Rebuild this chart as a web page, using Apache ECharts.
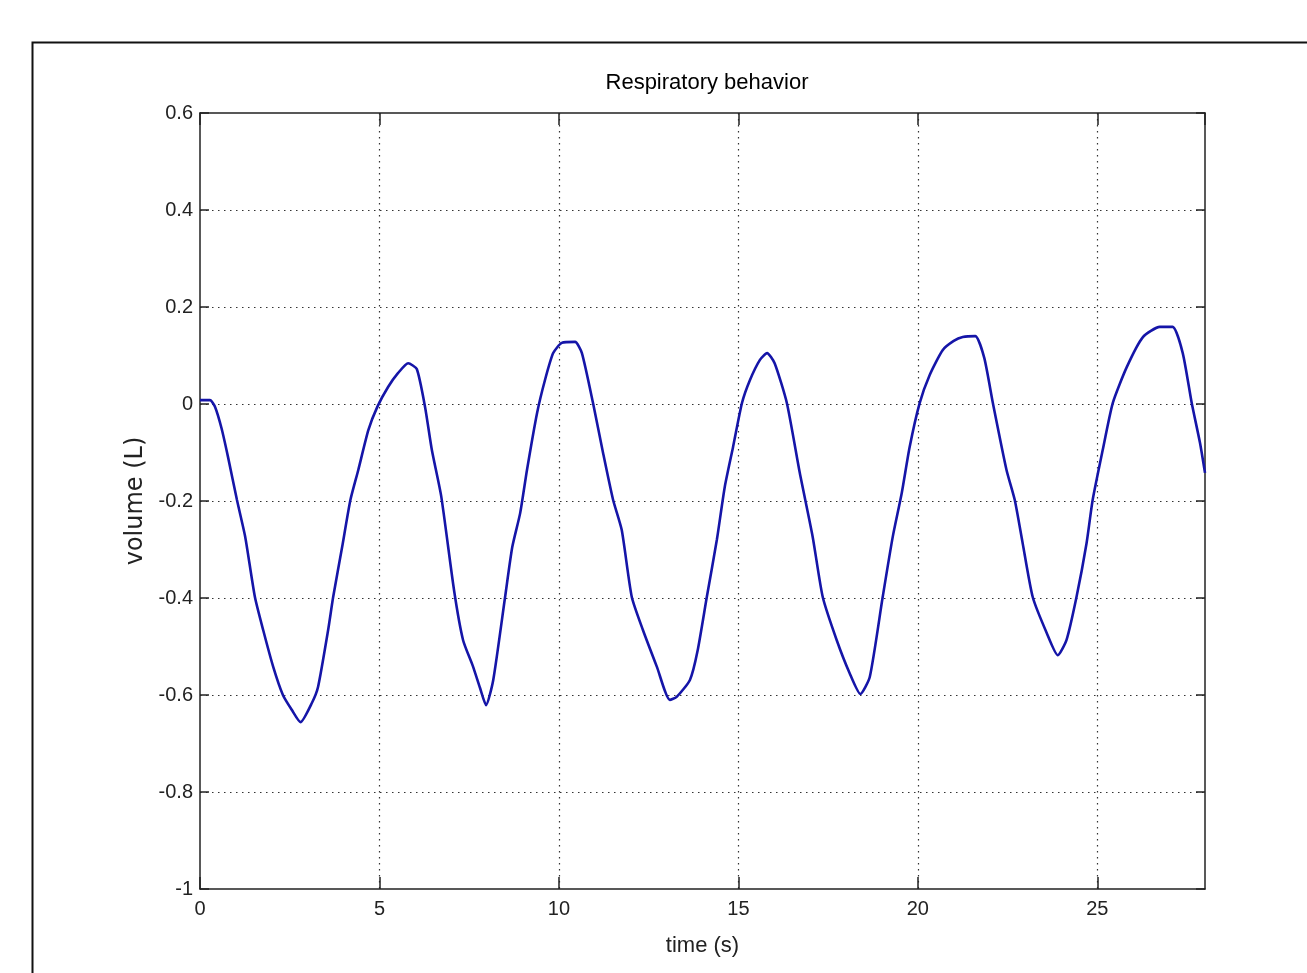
<!DOCTYPE html>
<html>
<head>
<meta charset="utf-8">
<title>Respiratory behavior</title>
<script src="https://cdn.jsdelivr.net/npm/echarts@6/dist/echarts.min.js"></script>
<style>
  html, body { margin: 0; padding: 0; background: #fff; }
  #chart { width: 1307px; height: 973px; }
</style>
</head>
<body>
<div id="chart"></div>
<script>
// time (s)
const times = [
  0, 0.28, 0.42, 0.6, 0.78, 1.03, 1.26, 1.53, 1.76, 2.04, 2.31, 2.56, 2.8,
  3.12, 3.29, 3.57, 3.71, 3.96, 4.19, 4.41, 4.69, 4.94, 5.24, 5.52, 5.8,
  6.04, 6.27, 6.46, 6.72, 7.08, 7.33, 7.6, 7.8, 7.97, 8.17, 8.5, 8.7, 8.92,
  9.11, 9.39, 9.61, 9.84, 10.08, 10.45, 10.64, 10.95, 11.23, 11.51, 11.75,
  12.03, 12.34, 12.73, 13.09, 13.28, 13.65, 13.86, 14.12, 14.4, 14.62, 14.85,
  15.1, 15.32, 15.6, 15.8, 16.01, 16.35, 16.71, 17.07, 17.35, 17.74, 18.1,
  18.4, 18.66, 19.02, 19.3, 19.55, 19.77, 20.05, 20.33, 20.69, 21.0, 21.25,
  21.6, 21.85, 22.09, 22.47, 22.7, 22.92, 23.2, 23.59, 23.9, 24.14, 24.42,
  24.7, 24.87, 25.15, 25.43, 25.82, 26.27, 26.74, 27.1, 27.38, 27.63, 27.86, 28.0
];
// volume (L)
const volume = [
  0.008, 0.008, -0.006, -0.05, -0.109, -0.198, -0.274, -0.398, -0.466, -0.542, -0.6, -0.631, -0.656,
  -0.616, -0.583, -0.466, -0.398, -0.295, -0.198, -0.136, -0.054, -0.006, 0.035, 0.064, 0.084,
  0.072, -0.006, -0.095, -0.19, -0.385, -0.487, -0.54, -0.585, -0.621, -0.569, -0.398, -0.295, -0.225,
  -0.136, -0.019, 0.049, 0.105, 0.126, 0.128, 0.105, 0.002, -0.101, -0.198, -0.26,
  -0.398, -0.466, -0.542, -0.61, -0.604, -0.569, -0.51, -0.398, -0.28, -0.171, -0.089,
  0.002, 0.049, 0.091, 0.105, 0.084, 0.002, -0.142, -0.274, -0.398, -0.487, -0.555,
  -0.598, -0.563, -0.398, -0.274, -0.184, -0.089, 0.002, 0.06, 0.111, 0.13, 0.138,
  0.14, 0.095, 0.002, -0.136, -0.198, -0.287, -0.398, -0.472, -0.518, -0.487, -0.398,
  -0.287, -0.198, -0.095, 0.002, 0.076, 0.138, 0.159, 0.159, 0.105, 0.002, -0.08, -0.142
];
const xTicks = [0, 5, 10, 15, 20, 25];
const yTicks = [0.6, 0.4, 0.2, 0, -0.2, -0.4, -0.6, -0.8, -1];

const chart = echarts.init(document.getElementById('chart'));
const labelFont = '"Liberation Sans Narrow", "Liberation Sans", Arial, sans-serif';
const axisLineStyle = { color: '#222', width: 1.5 };
const gridLineStyle = { color: '#333', width: 1.2, type: [1.5, 4.5] };

const option = {
  backgroundColor: '#fff',
  animation: false,
  title: {
    text: 'Respiratory behavior',
    left: 702,
    top: 67,
    textAlign: 'center',
    textStyle: { fontFamily: '"Liberation Sans", Arial, sans-serif', fontSize: 22, fontWeight: 'normal', color: '#000' }
  },
  graphic: [{
    type: 'rect',
    left: 30,
    top: 40,
    shape: { width: 1300, height: 960 },
    style: { fill: 'none', stroke: '#111', lineWidth: 2 }
  }],
  grid: { left: 200, top: 113, right: 102, bottom: 84 },
  xAxis: [{
    type: 'value',
    min: 0,
    max: 28,
    interval: 5,
    name: 'time (s)',
    nameLocation: 'middle',
    nameGap: 46,
    nameTextStyle: { fontFamily: labelFont, fontSize: 22, color: '#222' },
    axisLine: { onZero: false, lineStyle: axisLineStyle },
    axisTick: { inside: true, length: 12, lineStyle: axisLineStyle },
    axisLabel: {
      fontFamily: labelFont, fontSize: 20, color: '#222', margin: 10,
      showMaxLabel: false,
      formatter: v => xTicks.indexOf(v) >= 0 ? String(v) : ''
    },
    splitLine: { show: true, showMinLine: false, showMaxLine: false, lineStyle: gridLineStyle }
  }, {
    type: 'value',
    position: 'top',
    min: 0,
    max: 28,
    interval: 5,
    axisLine: { onZero: false, lineStyle: axisLineStyle },
    axisTick: { inside: true, length: 12, lineStyle: axisLineStyle },
    axisLabel: { show: false },
    splitLine: { show: false }
  }],
  yAxis: [{
    type: 'value',
    min: -1,
    max: 0.6,
    interval: 0.2,
    name: 'volume (L)',
    nameLocation: 'middle',
    nameGap: 52,
    nameTextStyle: { fontFamily: '"DejaVu Sans", sans-serif', fontSize: 24, color: '#222' },
    axisLine: { onZero: false, lineStyle: axisLineStyle },
    axisTick: { inside: true, length: 9, lineStyle: axisLineStyle },
    axisLabel: {
      fontFamily: labelFont, fontSize: 20, color: '#222', margin: 7,
      formatter: v => {
        const r = Math.round(v * 10) / 10;
        const hit = yTicks.find(t => Math.abs(t - r) < 1e-9);
        return hit === undefined ? '' : String(hit);
      }
    },
    splitLine: { show: true, showMinLine: false, showMaxLine: false, lineStyle: gridLineStyle }
  }, {
    type: 'value',
    position: 'right',
    min: -1,
    max: 0.6,
    interval: 0.2,
    axisLine: { show: true, onZero: false, lineStyle: axisLineStyle },
    axisTick: { show: true, inside: true, length: 9, lineStyle: axisLineStyle },
    axisLabel: { show: false },
    splitLine: { show: false }
  }],
  series: [{
    type: 'line',
    xAxisIndex: 0,
    yAxisIndex: 0,
    data: times.map((t, i) => [t, volume[i]]),
    showSymbol: false,
    smooth: 0.2,
    clip: true,
    lineStyle: { color: '#1515a8', width: 2.6 }
  }]
};

chart.setOption(option);
window.addEventListener('resize', function () {
  chart.resize();
});
</script>
</body>
</html>
